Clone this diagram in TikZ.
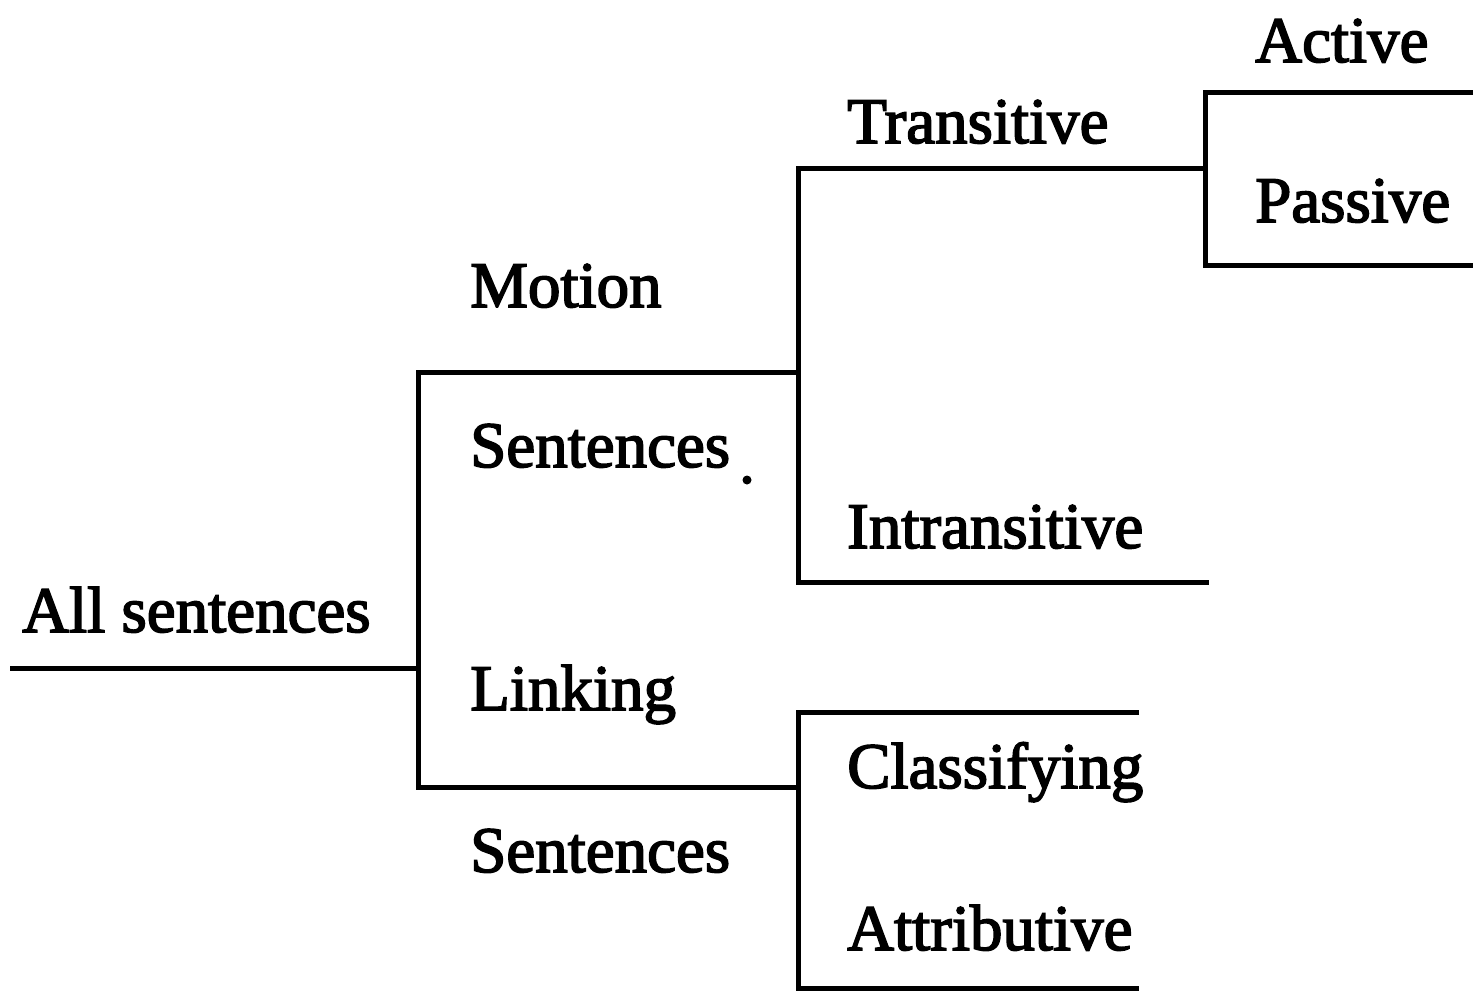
\documentclass[tikz,border=0pt]{standalone}
\usepackage{fontspec}
\newfontfamily\lblfont[FakeBold=2.5]{Liberation Serif}
\begin{document}
\begin{tikzpicture}[x=1pt,y=-1pt,
  branch/.style={line width=5pt,line cap=butt,line join=miter},
  lbl/.style={anchor=base west,inner sep=0pt,font=\lblfont\fontsize{65}{70}\selectfont}]
\useasboundingbox (0,0) rectangle (1473,993);

% junction points of the bracket tree
\coordinate (rootstart) at (10,668);
\coordinate (rootjoin)  at (418,668);
\coordinate (b1top) at (418,372);
\coordinate (b1bot) at (418,787);
\coordinate (b2top) at (798,168);
\coordinate (b2mid) at (798,372);
\coordinate (b2bot) at (798,582);
\coordinate (b4top) at (798,712);
\coordinate (b4mid) at (798,787);
\coordinate (b4bot) at (798,988);
\coordinate (b3top) at (1205,92);
\coordinate (b3mid) at (1205,168);
\coordinate (b3bot) at (1205,265);
\coordinate (intrend) at (1209,582);
\coordinate (actend)  at (1473,92);
\coordinate (pasend)  at (1473,265);
\coordinate (claend)  at (1139,712);
\coordinate (attend)  at (1139,988);

% labels
\node[lbl] (all)    at (22,632)   {All sentences};
\node[lbl] (motion) at (470,307)  {Motion};
\node[lbl] (msent)  at (470,467)  {Sentences};
\node[lbl] (link)   at (470,710)  {Linking};
\node[lbl] (lsent)  at (470,872)  {Sentences};
\node[lbl] (trans)  at (847,143)  {Transitive};
\node[lbl] (intr)   at (847,548)  {Intransitive};
\node[lbl] (class)  at (847,788)  {Classifying};
\node[lbl] (attr)   at (847,950)  {Attributive};
\node[lbl] (active) at (1255,62)  {Active};
\node[lbl] (pass)   at (1255,222) {Passive};

% branches
\draw[branch] (rootstart) -- (rootjoin);
\draw[branch] (b2mid) -- (b1top) -- (b1bot) -- (b4mid);
\draw[branch] (b3mid) -- (b2top) -- (b2bot) -- (intrend);
\draw[branch] (actend) -- (b3top) -- (b3bot) -- (pasend);
\draw[branch] (claend) -- (b4top) -- (b4bot) -- (attend);

% stray full stop after the first "Sentences"
\fill (747,480) circle (4.5);
\end{tikzpicture}
\end{document}
